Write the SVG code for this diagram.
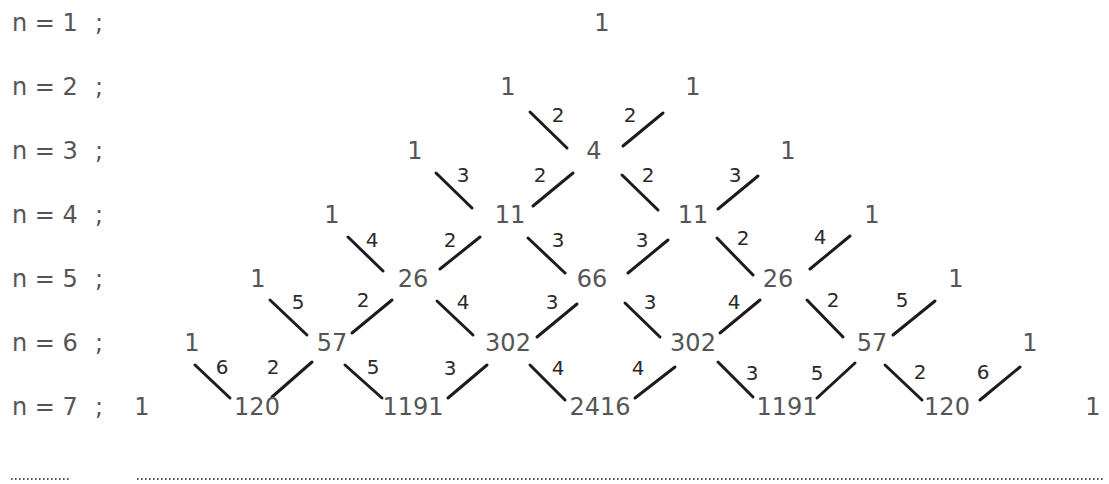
<svg xmlns="http://www.w3.org/2000/svg" width="1109" height="484" viewBox="0 0 1109 484">
<style>
.bg{fill:#fff}
.row{font-family:"DejaVu Sans",sans-serif;font-size:24px;fill:#555}
.num{font-family:"DejaVu Sans",sans-serif;font-size:24px;fill:#555;text-anchor:middle}
.lab{font-family:"DejaVu Sans",sans-serif;font-size:20px;fill:#2a2a2a;text-anchor:middle}
.e{stroke:#1c1c1c;stroke-width:3;stroke-linecap:round;fill:none}
.dot{stroke:#555;stroke-width:1.8;stroke-dasharray:1.6 2.4;fill:none}
</style>
<rect class="bg" x="0" y="0" width="1109" height="484"/>
<g id="row-labels">
<text class="row" x="12" y="31">n = 1<tspan x="95">;</tspan></text>
<text class="row" x="12" y="95">n = 2<tspan x="95">;</tspan></text>
<text class="row" x="12" y="159">n = 3<tspan x="95">;</tspan></text>
<text class="row" x="12" y="223">n = 4<tspan x="95">;</tspan></text>
<text class="row" x="12" y="287">n = 5<tspan x="95">;</tspan></text>
<text class="row" x="12" y="351">n = 6<tspan x="95">;</tspan></text>
<text class="row" x="12" y="415">n = 7<tspan x="95">;</tspan></text>
</g>
<g id="connectors">
<line class="e" x1="530" y1="112" x2="567" y2="148"/>
<line class="e" x1="623" y1="146" x2="663" y2="113"/>
<line class="e" x1="436" y1="173" x2="472" y2="208"/>
<line class="e" x1="533" y1="206" x2="573" y2="173"/>
<line class="e" x1="622" y1="175" x2="658" y2="210"/>
<line class="e" x1="718" y1="209" x2="758" y2="176"/>
<line class="e" x1="348" y1="237" x2="383" y2="271"/>
<line class="e" x1="440" y1="269" x2="480" y2="237"/>
<line class="e" x1="528" y1="238" x2="565" y2="273"/>
<line class="e" x1="628" y1="273" x2="668" y2="240"/>
<line class="e" x1="717" y1="238" x2="753" y2="275"/>
<line class="e" x1="810" y1="269" x2="850" y2="236"/>
<line class="e" x1="270" y1="300" x2="307" y2="335"/>
<line class="e" x1="352" y1="333" x2="392" y2="300"/>
<line class="e" x1="437" y1="301" x2="473" y2="335"/>
<line class="e" x1="537" y1="337" x2="577" y2="304"/>
<line class="e" x1="625" y1="303" x2="660" y2="337"/>
<line class="e" x1="720" y1="333" x2="760" y2="300"/>
<line class="e" x1="807" y1="300" x2="843" y2="337"/>
<line class="e" x1="893" y1="335" x2="935" y2="301"/>
<line class="e" x1="195" y1="365" x2="230" y2="398"/>
<line class="e" x1="272" y1="397" x2="312" y2="362"/>
<line class="e" x1="345" y1="365" x2="382" y2="398"/>
<line class="e" x1="448" y1="398" x2="487" y2="365"/>
<line class="e" x1="530" y1="365" x2="565" y2="400"/>
<line class="e" x1="635" y1="398" x2="675" y2="367"/>
<line class="e" x1="718" y1="362" x2="753" y2="397"/>
<line class="e" x1="817" y1="398" x2="855" y2="363"/>
<line class="e" x1="885" y1="365" x2="922" y2="400"/>
<line class="e" x1="980" y1="400" x2="1020" y2="367"/>
</g>
<g id="edge-labels">
<text class="lab" x="558" y="122">2</text>
<text class="lab" x="630" y="122">2</text>
<text class="lab" x="463" y="182">3</text>
<text class="lab" x="540" y="182">2</text>
<text class="lab" x="648" y="182">2</text>
<text class="lab" x="735" y="182">3</text>
<text class="lab" x="372" y="247">4</text>
<text class="lab" x="450" y="247">2</text>
<text class="lab" x="558" y="247">3</text>
<text class="lab" x="642" y="247">3</text>
<text class="lab" x="743" y="245">2</text>
<text class="lab" x="820" y="244">4</text>
<text class="lab" x="298" y="309">5</text>
<text class="lab" x="363" y="307">2</text>
<text class="lab" x="463" y="309">4</text>
<text class="lab" x="552" y="309">3</text>
<text class="lab" x="650" y="309">3</text>
<text class="lab" x="734" y="309">4</text>
<text class="lab" x="833" y="307">2</text>
<text class="lab" x="902" y="307">5</text>
<text class="lab" x="222" y="374">6</text>
<text class="lab" x="273" y="374">2</text>
<text class="lab" x="373" y="374">5</text>
<text class="lab" x="450" y="375">3</text>
<text class="lab" x="558" y="375">4</text>
<text class="lab" x="638" y="375">4</text>
<text class="lab" x="752" y="380">3</text>
<text class="lab" x="817" y="380">5</text>
<text class="lab" x="920" y="379">2</text>
<text class="lab" x="983" y="379">6</text>
</g>
<g id="n1"><text class="num" x="602" y="31">1</text></g>
<g id="n2a"><text class="num" x="508" y="95">1</text></g>
<g id="n2b"><text class="num" x="693" y="95">1</text></g>
<g id="n3a"><text class="num" x="415" y="159">1</text></g>
<g id="n3b"><text class="num" x="594" y="159">4</text></g>
<g id="n3c"><text class="num" x="788" y="159">1</text></g>
<g id="n4a"><text class="num" x="332" y="223">1</text></g>
<g id="n4b"><text class="num" x="510" y="223">11</text></g>
<g id="n4c"><text class="num" x="693" y="223">11</text></g>
<g id="n4d"><text class="num" x="872" y="223">1</text></g>
<g id="n5a"><text class="num" x="258" y="287">1</text></g>
<g id="n5b"><text class="num" x="413" y="287">26</text></g>
<g id="n5c"><text class="num" x="592" y="287">66</text></g>
<g id="n5d"><text class="num" x="778" y="287">26</text></g>
<g id="n5e"><text class="num" x="956" y="287">1</text></g>
<g id="n6a"><text class="num" x="192" y="351">1</text></g>
<g id="n6b"><text class="num" x="332" y="351">57</text></g>
<g id="n6c"><text class="num" x="508" y="351">302</text></g>
<g id="n6d"><text class="num" x="693" y="351">302</text></g>
<g id="n6e"><text class="num" x="872" y="351">57</text></g>
<g id="n6f"><text class="num" x="1030" y="351">1</text></g>
<g id="n7a"><text class="num" x="142" y="415">1</text></g>
<g id="n7b"><text class="num" x="257" y="415">120</text></g>
<g id="n7c"><text class="num" x="413" y="415">1191</text></g>
<g id="n7d"><text class="num" x="600" y="415">2416</text></g>
<g id="n7e"><text class="num" x="787" y="415">1191</text></g>
<g id="n7f"><text class="num" x="947" y="415">120</text></g>
<g id="n7g"><text class="num" x="1093" y="415">1</text></g>
<g id="dots">
<line class="dot" x1="11" y1="479" x2="70" y2="479"/>
<line class="dot" x1="137" y1="479" x2="1103" y2="479"/>
</g>
</svg>
